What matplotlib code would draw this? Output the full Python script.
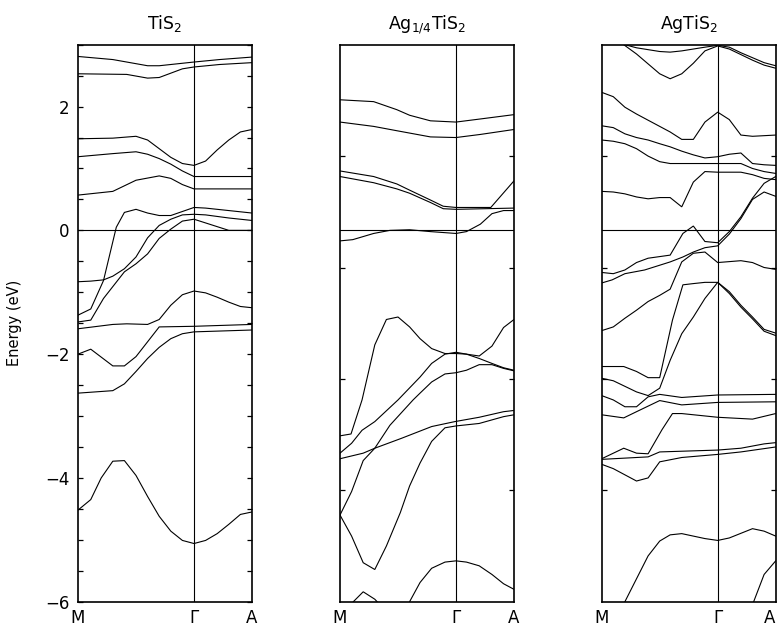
import matplotlib
matplotlib.use("Agg")
import matplotlib.pyplot as plt
import numpy as np

# ---------------- data: k-path position (M=0, Gamma=1, A=1.5) and energy (eV)
titles = ["TiS$_2$", "Ag$_{1/4}$TiS$_2$", "AgTiS$_2$"]
kpt_labels = ["M", "\u0393", "A"]
kpt_pos = [0.0, 1.0, 1.5]

# --- TiS2
t_k1 = [0, 0.30, 0.60, 0.70, 0.90, 1.0, 1.22, 1.5]
t_e1 = [2.81, 2.76, 2.66, 2.66, 2.70, 2.72, 2.76, 2.80]
t_k2 = [0, 0.42, 0.60, 0.70, 0.90, 1.0, 1.22, 1.5]
t_e2 = [2.53, 2.52, 2.46, 2.47, 2.61, 2.64, 2.68, 2.71]
t_k3 = [0, 0.30, 0.50, 0.60, 0.70, 0.80, 0.90, 1.0, 1.10, 1.20, 1.30, 1.40, 1.5]
t_e3 = [1.48, 1.49, 1.52, 1.46, 1.32, 1.18, 1.08, 1.05, 1.12, 1.30, 1.46, 1.59, 1.63]
t_k4 = [0, 0.30, 0.50, 0.60, 0.70, 0.80, 0.90, 1.0, 1.5]
t_e4 = [1.19, 1.24, 1.27, 1.23, 1.16, 1.07, 0.96, 0.87, 0.87]
t_k5 = [0, 0.30, 0.50, 0.70, 0.80, 0.90, 1.0, 1.5]
t_e5 = [0.57, 0.63, 0.81, 0.88, 0.84, 0.74, 0.67, 0.67]
t_k6 = [0, 0.11, 0.22, 0.33, 0.40, 0.50, 0.60, 0.70, 0.80, 1.0, 1.10, 1.5]
t_e6 = [-1.37, -1.27, -0.81, 0.05, 0.29, 0.34, 0.28, 0.24, 0.24, 0.37, 0.36, 0.28]
t_k7 = [0, 0.11, 0.22, 0.30, 0.40, 0.50, 0.60, 0.70, 0.80, 0.90, 1.0, 1.10, 1.30, 1.5]
t_e7 = [-0.83, -0.82, -0.80, -0.74, -0.62, -0.43, -0.12, 0.08, 0.18, 0.25, 0.26, 0.25, 0.20, 0.16]
t_k8 = [0, 0.11, 0.22, 0.40, 0.50, 0.60, 0.70, 0.80, 0.90, 1.0, 1.10, 1.30, 1.5]
t_e8 = [-1.48, -1.45, -1.10, -0.67, -0.54, -0.38, -0.13, 0.02, 0.15, 0.18, 0.12, 0.0, 0.0]
t_k9 = [0, 0.30, 0.42, 0.60, 0.70, 0.80, 0.90, 1.0, 1.10, 1.20, 1.30, 1.40, 1.5]
t_e9 = [-1.59, -1.52, -1.51, -1.52, -1.44, -1.21, -1.04, -0.98, -1.01, -1.08, -1.16, -1.23, -1.25]
t_k10 = [0, 0.11, 0.30, 0.40, 0.50, 0.60, 0.70, 1.0, 1.5]
t_e10 = [-2.0, -1.92, -2.19, -2.19, -2.04, -1.80, -1.56, -1.55, -1.52]
t_k11 = [0, 0.30, 0.40, 0.50, 0.60, 0.70, 0.80, 0.90, 1.0, 1.5]
t_e11 = [-2.63, -2.59, -2.48, -2.28, -2.07, -1.89, -1.75, -1.67, -1.64, -1.61]
t_k12 = [0, 0.11, 0.20, 0.30, 0.40, 0.50, 0.60, 0.70, 0.80, 0.90, 1.0, 1.10, 1.20, 1.30, 1.40, 1.5]
t_e12 = [-4.52, -4.35, -4.0, -3.73, -3.72, -3.96, -4.30, -4.62, -4.86, -5.01, -5.06, -5.01, -4.90, -4.75, -4.59, -4.55]

# --- Ag1/4TiS2
h_k1 = [0, 0.29, 0.49, 0.60, 0.78, 1.0, 1.21, 1.5]
h_e1 = [2.11, 2.08, 1.95, 1.86, 1.77, 1.75, 1.80, 1.87]
h_k2 = [0, 0.29, 0.49, 0.78, 1.0, 1.21, 1.5]
h_e2 = [1.75, 1.68, 1.61, 1.51, 1.50, 1.55, 1.63]
h_k3 = [0, 0.29, 0.49, 0.60, 0.78, 0.89, 1.0, 1.30, 1.5]
h_e3 = [0.96, 0.87, 0.75, 0.65, 0.49, 0.39, 0.37, 0.37, 0.80]
h_k4 = [0, 0.29, 0.49, 0.60, 0.78, 0.89, 1.0, 1.5]
h_e4 = [0.87, 0.77, 0.67, 0.60, 0.45, 0.35, 0.34, 0.36]
h_k5 = [0, 0.11, 0.29, 0.43, 0.60, 0.78, 1.0, 1.09, 1.21, 1.31, 1.41, 1.5]
h_e5 = [-0.17, -0.15, -0.05, 0.0, 0.01, -0.02, -0.05, -0.02, 0.10, 0.27, 0.32, 0.32]
h_k6 = [0, 0.095, 0.19, 0.30, 0.40, 0.50, 0.60, 0.69, 0.79, 0.905, 1.0, 1.09, 1.2, 1.31, 1.41, 1.5]
h_e6 = [-3.32, -3.29, -2.74, -1.85, -1.44, -1.40, -1.56, -1.75, -1.91, -1.99, -1.99, -2.0, -2.03, -1.87, -1.57, -1.44]
h_k7 = [0, 0.10, 0.19, 0.30, 0.50, 0.69, 0.79, 0.905, 1.0, 1.09, 1.2, 1.31, 1.41, 1.5]
h_e7 = [-3.60, -3.44, -3.23, -3.09, -2.74, -2.37, -2.15, -2.0, -1.97, -2.0, -2.07, -2.15, -2.22, -2.26]
h_k8 = [0, 0.2, 0.30, 0.43, 0.63, 0.69, 0.79, 0.905, 1.0, 1.09, 1.2, 1.31, 1.41, 1.5]
h_e8 = [-3.69, -3.60, -3.52, -3.15, -2.74, -2.63, -2.45, -2.32, -2.30, -2.26, -2.17, -2.17, -2.23, -2.27]
h_k9 = [0, 0.10, 0.2, 0.30, 0.53, 0.79, 0.99, 1.2, 1.41, 1.5]
h_e9 = [-4.60, -4.22, -3.72, -3.52, -3.36, -3.17, -3.09, -3.02, -2.93, -2.91]
h_k10 = [0, 0.10, 0.20, 0.30, 0.40, 0.52, 0.60, 0.69, 0.79, 0.905, 1.0, 1.2, 1.41, 1.5]
h_e10 = [-4.60, -4.94, -5.37, -5.48, -5.10, -4.56, -4.13, -3.76, -3.41, -3.19, -3.16, -3.12, -3.01, -2.98]
h_k11 = [0.60, 0.69, 0.79, 0.905, 1.0, 1.09, 1.2, 1.31, 1.41, 1.5]
h_e11 = [-6.0, -5.69, -5.46, -5.36, -5.34, -5.36, -5.42, -5.56, -5.71, -5.80]
h_k12 = [0.115, 0.20, 0.30, 0.32]
h_e12 = [-6.0, -5.84, -5.96, -6.0]

# --- AgTiS2
a_k0 = [0.17, 0.20, 0.30, 0.50, 0.59, 0.69, 0.89, 1.0, 1.1, 1.2, 1.3, 1.4, 1.5]
a_e0 = [3.05, 3.0, 2.95, 2.89, 2.88, 2.90, 2.96, 2.99, 2.96, 2.87, 2.79, 2.71, 2.66]
a_k1 = [0.17, 0.19, 0.30, 0.40, 0.50, 0.59, 0.69, 0.79, 0.89, 1.0, 1.1, 1.2, 1.3, 1.4, 1.5]
a_e1 = [3.05, 3.0, 2.85, 2.69, 2.53, 2.45, 2.53, 2.70, 2.90, 2.98, 2.93, 2.84, 2.75, 2.67, 2.62]
a_k2 = [0, 0.10, 0.20, 0.30, 0.40, 0.50, 0.59, 0.69, 0.79, 0.89, 1.0, 1.1, 1.2, 1.3, 1.5]
a_e2 = [2.23, 2.16, 1.99, 1.88, 1.78, 1.68, 1.59, 1.47, 1.47, 1.75, 1.91, 1.79, 1.54, 1.52, 1.54]
a_k3 = [0, 0.10, 0.20, 0.30, 0.40, 0.50, 0.59, 0.69, 0.79, 0.89, 1.0, 1.1, 1.2, 1.3, 1.4, 1.5]
a_e3 = [1.69, 1.66, 1.56, 1.50, 1.46, 1.40, 1.35, 1.28, 1.22, 1.17, 1.19, 1.23, 1.25, 1.08, 1.06, 1.05]
a_k4 = [0, 0.10, 0.20, 0.30, 0.40, 0.50, 0.59, 0.79, 1.0, 1.2, 1.3, 1.4, 1.5]
a_e4 = [1.46, 1.44, 1.40, 1.32, 1.20, 1.11, 1.08, 1.08, 1.08, 1.08, 1.0, 0.95, 0.92]
a_k5 = [0, 0.10, 0.20, 0.30, 0.40, 0.50, 0.59, 0.69, 0.79, 0.89, 1.0, 1.2, 1.3, 1.4, 1.5]
a_e5 = [0.63, 0.62, 0.59, 0.54, 0.51, 0.53, 0.53, 0.38, 0.78, 0.95, 0.94, 0.94, 0.90, 0.84, 0.82]
a_k6 = [0, 0.10, 0.20, 0.30, 0.40, 0.59, 0.70, 0.79, 0.89, 1.0, 1.1, 1.2, 1.3, 1.4, 1.5]
a_e6 = [-0.68, -0.70, -0.64, -0.52, -0.45, -0.40, -0.05, 0.07, -0.18, -0.20, -0.02, 0.22, 0.52, 0.76, 0.87]
a_k7 = [0, 0.09, 0.20, 0.37, 0.59, 0.70, 0.79, 0.89, 1.0, 1.1, 1.2, 1.3, 1.4, 1.5]
a_e7 = [-0.85, -0.80, -0.70, -0.64, -0.51, -0.43, -0.35, -0.28, -0.25, -0.06, 0.19, 0.50, 0.62, 0.55]
a_k8 = [0, 0.10, 0.20, 0.30, 0.40, 0.50, 0.59, 0.69, 0.79, 0.89, 1.0, 1.2, 1.3, 1.4, 1.5]
a_e8 = [-1.62, -1.56, -1.42, -1.29, -1.15, -1.05, -0.95, -0.51, -0.37, -0.35, -0.52, -0.49, -0.52, -0.60, -0.63]
a_k9 = [0, 0.19, 0.30, 0.40, 0.50, 0.61, 0.70, 0.79, 0.89, 1.0, 1.1, 1.2, 1.3, 1.4, 1.5]
a_e9 = [-2.20, -2.20, -2.28, -2.38, -2.38, -1.45, -0.88, -0.86, -0.84, -0.84, -0.99, -1.21, -1.40, -1.60, -1.66]
a_k10 = [0, 0.10, 0.20, 0.30, 0.40, 0.50, 0.59, 0.69, 0.79, 0.89, 1.0, 1.1, 1.2, 1.3, 1.4, 1.5]
a_e10 = [-2.39, -2.43, -2.52, -2.61, -2.67, -2.55, -2.10, -1.67, -1.40, -1.10, -0.84, -1.02, -1.24, -1.43, -1.63, -1.70]
a_k11 = [0, 0.10, 0.20, 0.30, 0.40, 0.50, 0.69, 1.0, 1.5]
a_e11 = [-2.67, -2.74, -2.85, -2.85, -2.69, -2.65, -2.70, -2.66, -2.65]
a_k12 = [0, 0.19, 0.30, 0.50, 0.69, 1.0, 1.5]
a_e12 = [-2.98, -3.03, -2.93, -2.75, -2.82, -2.78, -2.77]
a_k13 = [0, 0.19, 0.30, 0.40, 0.52, 0.61, 0.69, 1.0, 1.3, 1.5]
a_e13 = [-3.69, -3.52, -3.60, -3.61, -3.22, -2.96, -2.96, -3.02, -3.05, -2.96]
a_k14 = [0, 0.40, 0.50, 1.0, 1.2, 1.4, 1.5]
a_e14 = [-3.70, -3.66, -3.58, -3.55, -3.52, -3.45, -3.43]
a_k15 = [0, 0.10, 0.30, 0.40, 0.50, 0.69, 1.0, 1.2, 1.5]
a_e15 = [-3.78, -3.85, -4.05, -4.00, -3.74, -3.67, -3.62, -3.58, -3.50]
a_k16 = [0.20, 0.40, 0.50, 0.59, 0.69, 0.89, 1.0, 1.10, 1.30, 1.40, 1.5]
a_e16 = [-6.0, -5.26, -5.02, -4.92, -4.90, -4.98, -5.01, -4.97, -4.82, -4.86, -4.94]
a_k17 = [1.31, 1.40, 1.5]
a_e17 = [-6.0, -5.56, -5.34]

panels = [
    [(t_k1, t_e1), (t_k2, t_e2), (t_k3, t_e3), (t_k4, t_e4), (t_k5, t_e5), (t_k6, t_e6),
     (t_k7, t_e7), (t_k8, t_e8), (t_k9, t_e9), (t_k10, t_e10), (t_k11, t_e11), (t_k12, t_e12)],
    [(h_k1, h_e1), (h_k2, h_e2), (h_k3, h_e3), (h_k4, h_e4), (h_k5, h_e5), (h_k6, h_e6),
     (h_k7, h_e7), (h_k8, h_e8), (h_k9, h_e9), (h_k10, h_e10), (h_k11, h_e11), (h_k12, h_e12)],
    [(a_k0, a_e0), (a_k1, a_e1), (a_k2, a_e2), (a_k3, a_e3), (a_k4, a_e4), (a_k5, a_e5),
     (a_k6, a_e6), (a_k7, a_e7), (a_k8, a_e8), (a_k9, a_e9), (a_k10, a_e10), (a_k11, a_e11),
     (a_k12, a_e12), (a_k13, a_e13), (a_k14, a_e14), (a_k15, a_e15), (a_k16, a_e16), (a_k17, a_e17)],
]

ylim = (-6, 3)
p1_major = [-6, -4, -2, 0, 2]
p1_minor = list(np.arange(-6, 3.01, 0.5))
other_ticks = [1.2, -0.6, -2.4, -4.2]

# ---------------- figure
plt.rcParams['font.family'] = ['DejaVu Sans']
fig = plt.figure(figsize=(7.79, 6.32), dpi=100)
lefts = [78 / 779, 340 / 779, 601.7 / 779]
width = 174 / 779
bottom = 1 - 601.7 / 632
height = (601.7 - 44.7) / 632

for i, bands in enumerate(panels):
    ax = fig.add_axes([lefts[i], bottom, width, height])
    for k, e in bands:
        ax.plot(k, e, color='black', lw=0.8, solid_joinstyle='miter')
    ax.axhline(0, color='black', lw=0.8)
    ax.axvline(1.0, color='black', lw=0.8)
    ax.set_xlim(0, 1.5)
    ax.set_ylim(*ylim)
    ax.set_xticks(kpt_pos)
    ax.set_xticklabels(kpt_labels, fontsize=12)
    ax.tick_params(axis='x', length=0, pad=5)
    if i == 2:
        ax.get_xticklabels()[-1].set_horizontalalignment('right')
        ax.get_xticklabels()[-1].set_x(1.5)
    if i == 0:
        ax.set_yticks(p1_major)
        ax.set_yticklabels(["\u22126", "\u22124", "\u22122", "0", "2"], fontsize=12)
        ax.set_yticks(p1_minor, minor=True)
        ax.tick_params(axis='y', which='both', direction='in', length=3.5,
                       left=True, right=True, pad=6, width=0.9)
        ax.set_ylabel("Energy (eV)", fontsize=10.5)
        ax.yaxis.set_label_coords(-0.32, 0.5)
    else:
        ax.set_yticks(other_ticks)
        ax.set_yticklabels([])
        ax.tick_params(axis='y', direction='in', length=3.5, left=True,
                       right=True, width=0.9)
    for sp in ax.spines.values():
        sp.set_linewidth(1.2)
    ax.set_title(titles[i], fontsize=12.5, pad=11)

fig.savefig("out.png", dpi=100)
